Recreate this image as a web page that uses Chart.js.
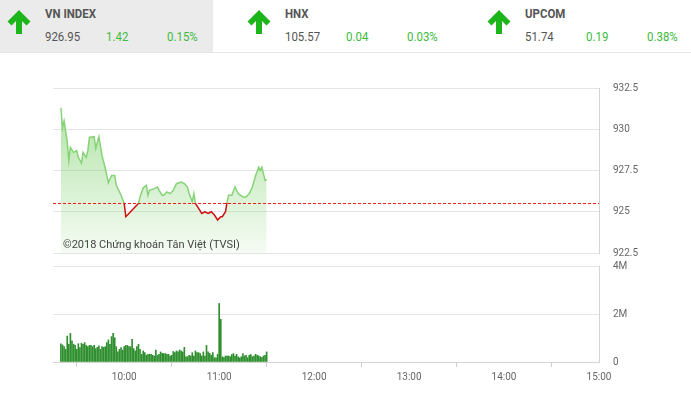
<!DOCTYPE html>
<html>
<head>
<meta charset="utf-8">
<script src="https://cdn.jsdelivr.net/npm/chart.js@4.4.1/dist/chart.umd.min.js"></script>
<style>
  html, body { margin: 0; padding: 0; background: #fff; }
  body { width: 691px; height: 394px; position: relative; overflow: hidden; font-family: Roboto, "Liberation Sans", Arial, sans-serif; }
  .hdr { position: absolute; left: 0; top: 0; width: 691px; height: 52px; border-bottom: 1px solid #e6e6e6; }
  .cell { position: absolute; top: 0; width: 213px; height: 52px; }
  .cell.on { background: #ebebeb; }
  .cell svg { position: absolute; left: 6px; top: 9px; }
  .cell span { position: absolute; font-family: Roboto, "Liberation Sans", sans-serif; font-size: 13px; color: #555; white-space: nowrap; transform: scaleX(0.88); transform-origin: left center; }
  .cell .nm { left: 45px; top: 6px; font-weight: bold; }
  .cell .pr { left: 45px; top: 29px; }
  .cell .ch { left: 106px; top: 29px; color: #3dbb3d; }
  .cell .pc { left: 167px; top: 29px; color: #3dbb3d; }
  #wrapP { position: absolute; left: 0; top: 68px; width: 691px; height: 205px; }
  #wrapV { position: absolute; left: 0; top: 246px; width: 691px; height: 148px; }
  canvas { display: block; }
  .mark { position: absolute; left: 63px; top: 238px; font-size: 11px; color: #444; white-space: nowrap; }
</style>
</head>
<body>
<div class="hdr"></div>
<div id="cells"></div>
<div id="wrapP"><canvas id="priceChart" width="691" height="205"></canvas></div>
<div id="wrapV"><canvas id="volChart" width="691" height="148"></canvas></div>
<div class="mark">©2018 Chứng khoán Tân Việt (TVSI)</div>

<script>
// header quotes
const indexNames = ['VN INDEX', 'HNX', 'UPCOM'];
const indexPrices = ['926.95', '105.57', '51.74'];
const indexChanges = ['1.42', '0.04', '0.19'];
const indexPercents = ['0.15%', '0.03%', '0.38%'];

// intraday VN-Index (morning session)
const refPrice = 925.53;
const priceTimes = ['9:20','9:21','9:22','9:24','9:25','9:26','9:28','9:30','9:31','9:33','9:34','9:36','9:37','9:38',
  '9:41','9:42','9:44','9:46','9:48','9:50','9:52','9:54','9:55','9:58','10:00','10:01','10:03','10:05','10:07','10:09',
  '10:10','10:12','10:14','10:15','10:16','10:19','10:21','10:22','10:24','10:25','10:27','10:29','10:31','10:33','10:36',
  '10:38','10:40','10:41','10:43','10:44','10:45','10:47','10:49','10:51','10:53','10:55','10:57','10:59','11:01','11:02',
  '11:04','11:05','11:06','11:08','11:10','11:12','11:15','11:17','11:19','11:21','11:23','11:25','11:26','11:27','11:28',
  '11:29','11:30'];
const priceValues = [931.3, 930.1, 930.5, 929.25, 928.1, 928.9, 928.6, 928.7, 928.3, 927.95, 928.6, 928.3, 928.7, 929.5,
  929.55, 928.85, 929.55, 928.4, 927.65, 926.75, 927.2, 927.2, 926.6, 926.0, 925.5, 924.7, 924.9, 925.1, 925.3, 925.5,
  925.9, 926.45, 926.6, 926.0, 926.3, 926.4, 926.5, 926.3, 926.0, 926.0, 926.2, 926.1, 926.3, 926.7, 926.8,
  926.7, 926.5, 926.1, 925.6, 926.1, 925.5, 925.2, 924.9, 925.0, 924.9, 925.0, 924.8, 924.5, 924.7, 924.7,
  925.0, 925.6, 926.0, 926.0, 926.5, 926.1, 925.9, 925.9, 926.1, 926.5, 927.2, 927.7, 927.5, 927.7, 927.3,
  926.9, 926.95];

// volume per minute from 9:20, in millions of shares
const volStart = '9:20';
const volValues = [0.76, 0.71, 0.64, 0.53, 1.08, 0.74, 1.19, 0.88, 0.74, 0.69, 0.53, 0.76, 0.60, 0.78, 0.74, 0.81,
  0.69, 0.64, 0.69, 0.69, 0.64, 0.69, 0.56, 0.61, 0.67, 0.53, 0.64, 0.61, 0.64, 0.81, 0.92, 0.74, 1.06, 1.19, 1.01,
  0.64, 0.42, 0.53, 0.60, 0.50, 0.64, 0.69, 0.69, 0.64, 0.64, 0.94, 0.56, 0.46, 0.64, 0.74, 0.53, 0.32, 0.46, 0.39,
  0.28, 0.32, 0.32, 0.32, 0.28, 0.25, 0.50, 0.28, 0.32, 0.42, 0.36, 0.35, 0.35, 0.32, 0.32, 0.25, 0.28, 0.44, 0.39,
  0.46, 0.42, 0.50, 0.46, 0.42, 0.61, 0.22, 0.22, 0.28, 0.25, 0.39, 0.25, 0.46, 0.39, 0.39, 0.35, 0.25, 0.42, 0.25,
  0.69, 0.42, 0.36, 0.28, 0.39, 0.18, 0.17, 0.32, 2.44, 1.78, 0.22, 0.18, 0.25, 0.25, 0.25, 0.22, 0.31, 0.35, 0.25,
  0.32, 0.22, 0.17, 0.22, 0.35, 0.25, 0.28, 0.18, 0.28, 0.31, 0.22, 0.25, 0.32, 0.28, 0.25, 0.22, 0.18, 0.25, 0.28, 0.42];

const axisStart = '9:15';
const axisEnd = '15:00';
const timeTicks = ['10:00', '11:00', '12:00', '13:00', '14:00', '15:00'];
const priceTicks = [922.5, 925, 927.5, 930, 932.5];
const volTicks = [0, 2000000, 4000000];

function toMin(t) {
  const p = t.split(':');
  return +p[0] * 60 + +p[1];
}
function fmtMin(m) {
  return Math.floor(m / 60) + ':' + String(m % 60).padStart(2, '0');
}

// header cells
const arrow = '<svg width="26" height="26" viewBox="0 0 26 26"><path d="M13 1 L24.5 12.5 L20.5 16.5 L16 12 V25 H10 V12 L5.5 16.5 L1.5 12.5 Z" fill="#1cb51c"/></svg>';
const cells = document.getElementById('cells');
indexNames.forEach((n, i) => {
  const d = document.createElement('div');
  d.className = 'cell' + (i === 0 ? ' on' : '');
  d.style.left = (i * 240) + 'px';
  d.innerHTML = arrow + '<span class="nm">' + n + '</span><span class="pr">' + indexPrices[i] +
    '</span><span class="ch">' + indexChanges[i] + '</span><span class="pc">' + indexPercents[i] + '</span>';
  cells.appendChild(d);
});

const gridColor = '#e4e4e4';
const tickFont = { family: 'Roboto, "Liberation Sans", Arial', size: 10 };
const tickColor = '#666';

// previous close, dashed across the price pane
const refLine = {
  id: 'refLine',
  afterDatasetsDraw(chart) {
    const { ctx, chartArea, scales } = chart;
    const y = scales.y.getPixelForValue(refPrice);
    ctx.save();
    ctx.strokeStyle = '#f01c1c';
    ctx.lineWidth = 1;
    ctx.setLineDash([3, 2]);
    ctx.beginPath();
    ctx.moveTo(chartArea.left, Math.round(y) + 0.5);
    ctx.lineTo(chartArea.right, Math.round(y) + 0.5);
    ctx.stroke();
    ctx.restore();
  }
};

function hourTicks(scale) {
  scale.ticks = timeTicks.map(t => ({ value: toMin(t) }));
}

new Chart(document.getElementById('priceChart'), {
  type: 'line',
  data: {
    datasets: [{
      data: priceTimes.map((t, i) => ({ x: toMin(t), y: priceValues[i] })),
      borderWidth: 1.5,
      pointRadius: 0,
      tension: 0,
      fill: 'start',
      borderColor: (c) => {
        const { chart } = c;
        const ca = chart.chartArea;
        if (!ca) return '#86d276';
        const r = Math.min(1, Math.max(0, (chart.scales.y.getPixelForValue(refPrice) - ca.top) / (ca.bottom - ca.top)));
        const g = chart.ctx.createLinearGradient(0, ca.top, 0, ca.bottom);
        g.addColorStop(0, '#86d276');
        g.addColorStop(r, '#86d276');
        g.addColorStop(r, '#cc1010');
        g.addColorStop(1, '#cc1010');
        return g;
      },
      backgroundColor: (c) => {
        const ca = c.chart.chartArea;
        if (!ca) return 'rgba(120,205,100,0.4)';
        const g = c.chart.ctx.createLinearGradient(0, ca.top, 0, ca.bottom);
        g.addColorStop(0, 'rgba(115,205,95,0.62)');
        g.addColorStop(1, 'rgba(115,205,95,0.07)');
        return g;
      }
    }]
  },
  options: {
    responsive: false,
    devicePixelRatio: 1,
    animation: false,
    layout: { padding: { left: 53, right: 32, top: 20, bottom: 20 } },
    plugins: { legend: { display: false }, tooltip: { enabled: false } },
    scales: {
      x: { type: 'linear', display: false, min: toMin(axisStart), max: toMin(axisEnd) },
      y: {
        position: 'right',
        min: priceTicks[0],
        max: priceTicks[priceTicks.length - 1],
        afterBuildTicks: (s) => { s.ticks = priceTicks.map(v => ({ value: v })); },
        afterFit: (s) => { s.width = 60; },
        grid: { color: gridColor, drawTicks: false },
        border: { display: true, color: '#d4d4d4' },
        ticks: { padding: 14, color: tickColor, font: tickFont }
      }
    }
  },
  plugins: [refLine]
});

const v0 = toMin(volStart);
new Chart(document.getElementById('volChart'), {
  type: 'bar',
  data: {
    datasets: [{
      data: volValues.map((v, i) => ({ x: v0 + i, y: v * 1000000 })),
      backgroundColor: '#2f8f2f',
      barThickness: 1
    }]
  },
  options: {
    responsive: false,
    devicePixelRatio: 1,
    animation: false,
    layout: { padding: { left: 53, right: 32, top: 20, bottom: 0 } },
    plugins: { legend: { display: false }, tooltip: { enabled: false } },
    scales: {
      x: {
        type: 'linear',
        offset: false,
        min: toMin(axisStart),
        max: toMin(axisEnd),
        afterBuildTicks: hourTicks,
        afterFit: (s) => { s.height = 32; },
        grid: { drawOnChartArea: false, drawTicks: true, tickLength: 5, color: '#cfcfcf' },
        border: { display: true, color: '#d4d4d4' },
        ticks: { padding: 4, color: tickColor, font: tickFont, maxRotation: 0, callback: (v) => fmtMin(v) }
      },
      y: {
        position: 'right',
        min: 0,
        max: volTicks[volTicks.length - 1],
        afterBuildTicks: (s) => { s.ticks = volTicks.map(v => ({ value: v })); },
        afterFit: (s) => { s.width = 60; },
        grid: { color: gridColor, drawTicks: false },
        border: { display: true, color: '#d4d4d4' },
        ticks: { padding: 14, color: tickColor, font: tickFont, callback: (v) => v === 0 ? '0' : (v / 1000000) + 'M' }
      }
    }
  }
});
</script>
</body>
</html>
